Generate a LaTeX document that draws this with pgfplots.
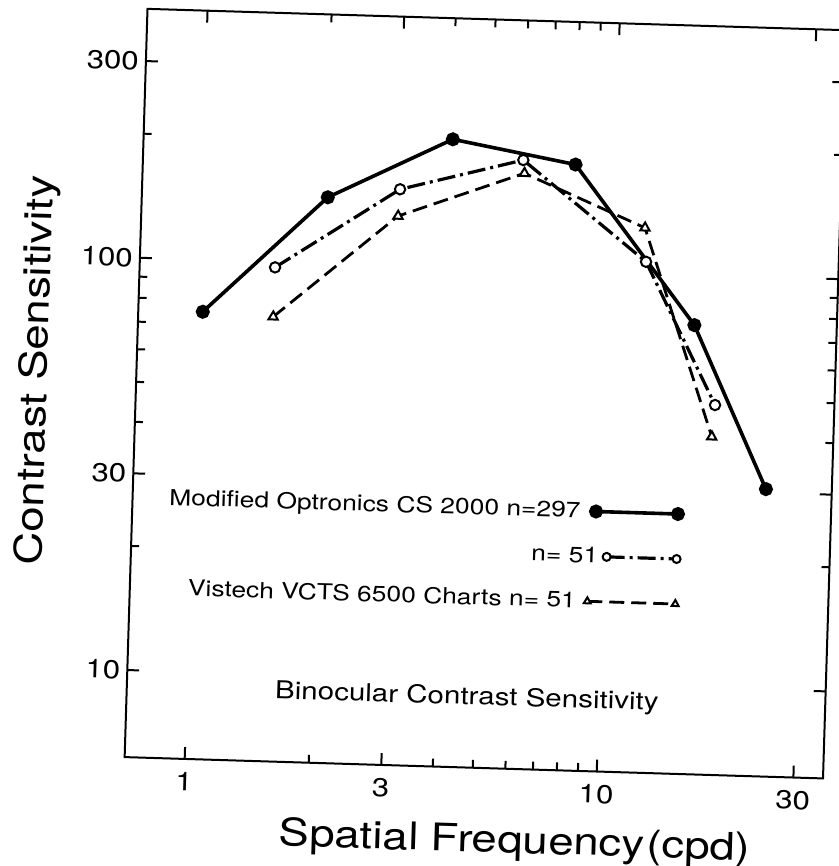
\documentclass[border=0pt]{standalone}
\usepackage{fontspec}
\setmainfont{TeX Gyre Heros}[FakeStretch=1.2]
\usepackage{pgfplots}
\pgfplotsset{compat=1.18}

% legend samples: a line with a marker at each end
\pgfplotsset{
  legA/.style={legend image code/.code={\draw[##1] plot coordinates {(3pt,0pt) (44pt,0pt)};}},
  legB/.style={legend image code/.code={\draw[##1, mark size=2pt] plot coordinates {(9pt,0pt) (44pt,0pt)};}},
  legC/.style={legend image code/.code={\draw[##1, mark size=2pt] plot coordinates {(0pt,0pt) (44pt,0pt)};}},
}

\begin{document}
\begin{tikzpicture}
% page = the scanned figure frame
\path[use as bounding box] (-67.85pt,-49.1pt) rectangle (351.65pt,383.9pt);
% the scan is tilted a little clockwise
\begin{scope}[transform canvas={rotate around={-1.75:(172.15pt,183.9pt)}}]
\begin{axis}[
    at={(0pt,0pt)}, anchor=south west,
    scale only axis, width=349.35pt, height=374.3pt,
    xmode=log, ymode=log,
    xmin=0.715, xmax=35.4, ymin=6.15, ymax=401.6,
    xtick={1,3,10,30}, xticklabels={1,3,10,30},
    minor xtick={2,4,5,6,7,8,9},
    ytick={10,30,100,300}, yticklabels={10,30,100,300},
    minor ytick={20,40,50,60,70,80,90,200},
    major tick length=6pt, minor tick length=4pt,
    tick style={black, line width=1pt},
    axis line style={line width=1pt},
    ticklabel style={font=\fontsize{13}{15}\selectfont},
    xticklabel style={yshift=-3pt},
    label style={font=\fontsize{19}{22}\selectfont},
    xlabel={Spatial Frequency\kern1pt(cpd)},
    ylabel={Contrast Sensitivity},
    xlabel style={at={(ticklabel cs:0.562)}, anchor=north, yshift=-5pt},
    ylabel style={at={(ticklabel cs:0.513,4pt)}},
    legend plot pos=right,
    legend cell align=right,
    legend style={at={(rel axis cs:0.789,0.366)}, anchor=north east,
        draw=none, fill=none, inner sep=0pt, row sep=9pt, column sep=2pt,
        font=\fontsize{11}{13}\selectfont},
  ]
  % Modified Optronics CS 2000
  \addplot [black, line width=1.8pt, mark=*, mark size=2.6pt, legA]
    coordinates {(1.025,74.8) (2.02,144.7) (4.02,204.3) (8.01,181.2) (15.98,75.5) (24.5,30.6)};
  \addlegendentry{Modified Optronics CS 2000 n=297\hspace*{-1pt}}
  % same group, n = 51
  \addplot [black, line width=1.6pt, dash pattern=on 9pt off 2.5pt on 1.5pt off 2.5pt,
      mark=*, mark size=2.6pt, mark options={solid, fill=white, line width=1pt}, legB]
    coordinates {(1.523,97.0) (3.02,153.2) (5.98,184.2) (12.07,106.6) (18.18,48.5)};
  \addlegendentry{n= 51\hspace*{-10.5pt}}
  % Vistech VCTS 6500
  \addplot [black, line width=1.4pt, dash pattern=on 7.5pt off 3.5pt,
      mark=triangle*, mark size=2.7pt, mark options={solid, fill=white, line width=1pt}, legC]
    coordinates {(1.52,73.6) (3.0,131.9) (6.03,171.1) (11.93,128.8) (17.95,40.6)};
  \addlegendentry{Vistech VCTS 6500 Charts n= 51}

  \node[font=\fontsize{12.3}{14}\selectfont] at (rel axis cs:0.487,0.093)
    {Binocular Contrast Sensitivity};
\end{axis}
\end{scope}
\end{tikzpicture}
\end{document}
